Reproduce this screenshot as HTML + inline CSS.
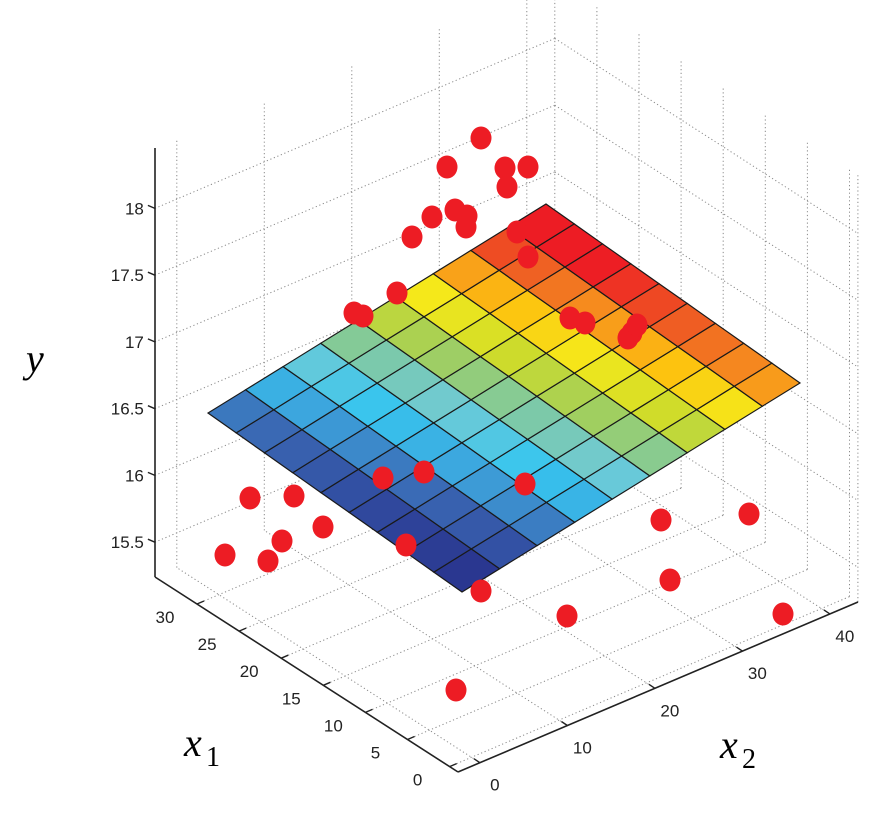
<!DOCTYPE html>
<html><head><meta charset="utf-8">
<style>
html,body{margin:0;padding:0;background:#fff;}
svg{display:block;}
text{font-family:"Liberation Sans",Arial,sans-serif;font-size:17px;fill:#222;}
.ax{font-family:"Liberation Serif",serif;font-style:italic;font-size:40px;fill:#000;}
.sub{font-family:"Liberation Serif",serif;font-size:28px;fill:#000;}
</style></head>
<body>
<svg id="s" width="894" height="818" viewBox="0 0 894 818" xmlns="http://www.w3.org/2000/svg">
<g id="grid" stroke="#8a8a8a" stroke-width="1" stroke-dasharray="1.2,2.6" fill="none"></g>
<g id="axes" stroke="#222" stroke-width="1.6" fill="none">
<line x1="155" y1="148" x2="155" y2="577"/>
<line x1="155" y1="577" x2="458" y2="772"/>
<line x1="458" y1="772" x2="858" y2="602"/>
</g>
<g id="ticks" stroke="#222" stroke-width="1.4"></g>
<g id="lbl"></g>
<g id="surf" stroke="#1a1a1a" stroke-width="1.2"></g>
<g id="dots" fill="#ed1c24"></g>
<text class="ax" x="26" y="372">y</text>
<text class="ax" x="184" y="756">x</text><text class="sub" x="206" y="766">1</text>
<text class="ax" x="720" y="758">x</text><text class="sub" x="742" y="768">2</text>
</svg>
<script>
var NS="http://www.w3.org/2000/svg";
function el(p,t,a,txt){var e=document.createElementNS(NS,t);for(var k in a)e.setAttribute(k,a[k]);if(txt!=null)e.textContent=txt;document.getElementById(p).appendChild(e);return e;}
var YB=15.24,YT=18.45;
function P(x1,x2,y){return [458+(x1+1)*(-8.42)+(x2+2.5)*8.75, 772+(x1+1)*(-5.42)+(x2+2.5)*(-3.72)-(y-YB)*133.5];}
function L(g,a,b){el(g,"line",{x1:a[0].toFixed(1),y1:a[1].toFixed(1),x2:b[0].toFixed(1),y2:b[1].toFixed(1)});}
var X1=[0,5,10,15,20,25,30],X2=[0,10,20,30,40],Y=[15.5,16,16.5,17,17.5,18];
var x1max=35,x1min=-1,x2min=-2.5,x2max=43.2;
X1.forEach(function(v){L("grid",P(v,x2min,YB),P(v,x2max,YB));});
X2.forEach(function(v){L("grid",P(x1min,v,YB),P(x1max,v,YB));});
X2.forEach(function(v){L("grid",P(x1max,v,YB),P(x1max,v,YT));});
Y.forEach(function(v){L("grid",P(x1max,x2min,v),P(x1max,x2max,v));});
X1.forEach(function(v){L("grid",P(v,x2max,YB),P(v,x2max,YT));});
Y.forEach(function(v){L("grid",P(x1max,x2max,v),P(x1min,x2max,v));});
L("grid",P(x1max,x2max,YB),P(x1max,x2max,YT));
L("grid",P(x1min,x2max,YB),P(x1min,x2max,YT));
Y.forEach(function(v){var p=P(x1max,x2min,v);L("ticks",p,[p[0]-7,p[1]-3]);el("lbl","text",{x:p[0]-11,y:p[1]+6,"text-anchor":"end"},String(v));});
X1.forEach(function(v){var p=P(v,x2min,YB);L("ticks",p,[p[0]+7,p[1]-3]);el("lbl","text",{x:p[0]-32,y:p[1]+19,"text-anchor":"middle"},String(v));});
X2.forEach(function(v){var p=P(x1min,v,YB);L("ticks",p,[p[0]-6,p[1]-4]);el("lbl","text",{x:p[0]+15,y:p[1]+28,"text-anchor":"middle"},String(v));});
var B=[462,592],Lc=[208,413],R=[800,383];
function S(u,v){return [B[0]+u*(Lc[0]-B[0])+v*(R[0]-B[0]),B[1]+u*(Lc[1]-B[1])+v*(R[1]-B[1])];}
var stops=[[0,"#27308a"],[0.1,"#2f469c"],[0.2,"#3a66b2"],[0.3,"#3da3dc"],[0.38,"#36c5ef"],[0.45,"#6ecad6"],[0.52,"#7dc9a6"],[0.6,"#a3cf5a"],[0.67,"#cfdc2a"],[0.74,"#f5e81a"],[0.8,"#fdc20f"],[0.86,"#f7941d"],[0.92,"#ef6123"],[1,"#ed1c24"]];
function hx(c){return [parseInt(c.substr(1,2),16),parseInt(c.substr(3,2),16),parseInt(c.substr(5,2),16)];}
function cmap(t){t=Math.max(0,Math.min(1,t));for(var i=1;i<stops.length;i++){if(t<=stops[i][0]){var a=stops[i-1],b=stops[i],f=(t-a[0])/(b[0]-a[0]);var ca=hx(a[1]),cb=hx(b[1]);return "rgb("+ca.map(function(x,k){return Math.round(x+(cb[k]-x)*f);}).join(",")+")";}}return stops[stops.length-1][1];}
var N=9;
for(var i=0;i<N;i++)for(var j=0;j<N;j++){
 var u0=i/N,u1=(i+1)/N,v0=j/N,v1=(j+1)/N;
 var pts=[S(u0,v0),S(u1,v0),S(u1,v1),S(u0,v1)].map(function(p){return p[0].toFixed(1)+","+p[1].toFixed(1);}).join(" ");
 var uc=(i+0.5)/N,vc=(j+0.5)/N;
 el("surf","polygon",{points:pts,fill:cmap(0.22*uc+0.92*vc-0.03)});
}
var D=[[481,138],[447,167],[505,168],[528,167],[507,187],[432,217],[455,210],[467,216],[466,227],[412,237],[517,232],[528,257],[397,293],[354,313],[363,316],[585,323],[570,318],[632,333],[628,338],[637,325],
[250,498],[294,496],[323,527],[282,541],[225,555],[268,561],[383,478],[424,472],[406,545],[525,484],[481,591],[567,616],[661,520],[670,580],[749,514],[783,614],[456,690]];
D.forEach(function(d){el("dots","ellipse",{cx:d[0],cy:d[1],rx:10.5,ry:11.5});});
</script>
</body></html>
